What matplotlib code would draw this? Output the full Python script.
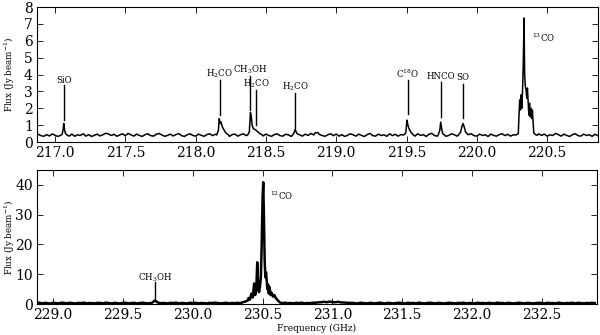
import numpy as np
import matplotlib
matplotlib.use("Agg")
from matplotlib import pyplot as plt

plt.rcParams['font.family'] = 'DejaVu Serif'
plt.rcParams['mathtext.fontset'] = 'dejavuserif'

# ---- upper spectral window (216.88 - 220.86 GHz) ----
top_start = 216.88
top_step = 0.02
top_base = [
    0.46, 0.38, 0.34, 0.44, 0.36, 0.48, 0.40, 0.33, 0.45, 0.50,
    0.38, 0.35, 0.47, 0.34, 0.43, 0.39, 0.49, 0.35, 0.44, 0.33,
    0.40, 0.47, 0.36, 0.43, 0.52, 0.48, 0.39, 0.46, 0.34, 0.42,
    0.49, 0.37, 0.51, 0.43, 0.35, 0.47, 0.39, 0.33, 0.44, 0.49,
    0.38, 0.35, 0.46, 0.51, 0.42, 0.34, 0.39, 0.47, 0.36, 0.44,
    0.50, 0.38, 0.33, 0.43, 0.49, 0.39, 0.35, 0.47, 0.40, 0.34,
    0.44, 0.49, 0.38, 0.46, 0.35, 0.43, 0.51, 0.39, 0.33, 0.44,
    0.47, 0.35, 0.43, 0.49, 0.38, 0.33, 0.47, 0.39, 0.51, 0.43,
    0.36, 0.47, 0.39, 0.34, 0.44, 0.49, 0.38, 0.35, 0.46, 0.43,
    0.33, 0.39, 0.49, 0.43, 0.35, 0.47, 0.39, 0.51, 0.44, 0.36,
    0.47, 0.39, 0.34, 0.43, 0.49, 0.38, 0.47, 0.35, 0.44, 0.33,
    0.40, 0.49, 0.43, 0.35, 0.47, 0.39, 0.33, 0.44, 0.51, 0.38,
    0.35, 0.47, 0.39, 0.43, 0.34, 0.49, 0.38, 0.46, 0.35, 0.44,
    0.39, 0.33, 0.47, 0.43, 0.35, 0.49, 0.39, 0.44, 0.33, 0.47,
    0.51, 0.38, 0.35, 0.44, 0.47, 0.34, 0.39, 0.49, 0.43, 0.35,
    0.40, 0.47, 0.33, 0.44, 0.49, 0.38, 0.35, 0.47, 0.39, 0.43,
    0.33, 0.47, 0.39, 0.35, 0.44, 0.49, 0.38, 0.46, 0.35, 0.43,
    0.39, 0.49, 0.43, 0.33, 0.47, 0.38, 0.35, 0.44, 0.49, 0.39,
    0.47, 0.35, 0.43, 0.39, 0.51, 0.44, 0.35, 0.47, 0.39, 0.33,
    0.44, 0.49, 0.38, 0.35, 0.47, 0.39, 0.43, 0.34, 0.46, 0.38,
]

sio_f = [217.04, 217.05, 217.058, 217.062, 217.068, 217.075, 217.085]
sio_v = [0.40, 0.45, 0.75, 1.10, 0.70, 0.50, 0.42]
h2co1_f = [218.15, 218.162, 218.168, 218.174, 218.18, 218.19, 218.20, 218.21, 218.22, 218.235]
h2co1_v = [0.42, 0.70, 1.38, 1.10, 1.20, 0.90, 0.75, 0.60, 0.50, 0.42]
ch3oh_f = [218.37, 218.382, 218.39, 218.396, 218.402, 218.41, 218.42, 218.43, 218.44, 218.45, 218.46, 218.475]
ch3oh_v = [0.42, 0.60, 1.75, 1.50, 1.00, 0.80, 0.75, 0.70, 0.62, 0.55, 0.48, 0.42]
h2co2_f = [218.69, 218.70, 218.708, 218.715, 218.725]
h2co2_v = [0.42, 0.55, 0.75, 0.60, 0.47]
bump_f = [218.84, 218.85, 218.87, 218.88]
bump_v = [0.42, 0.55, 0.56, 0.45]
c18o_f = [219.48, 219.495, 219.503, 219.51, 219.52, 219.53, 219.545]
c18o_v = [0.42, 0.55, 1.30, 1.00, 0.75, 0.60, 0.45]
hnco_f = [219.725, 219.737, 219.743, 219.75, 219.757, 219.77]
hnco_v = [0.42, 0.70, 1.18, 0.80, 0.50, 0.42]
so_f = [219.87, 219.885, 219.895, 219.902, 219.91, 219.92, 219.935]
so_v = [0.42, 0.60, 0.95, 1.10, 0.90, 0.60, 0.45]
co13_f = [220.28, 220.295, 220.30, 220.305, 220.31, 220.315, 220.32, 220.325, 220.33,
          220.336, 220.34, 220.345, 220.35, 220.355, 220.36, 220.365, 220.37, 220.375,
          220.38, 220.385, 220.39, 220.395, 220.40, 220.405, 220.415, 220.43]
co13_v = [0.42, 0.50, 1.60, 2.50, 1.90, 2.80, 2.00, 3.00, 4.50,
          7.35, 4.00, 3.30, 3.10, 2.60, 3.20, 2.40, 1.60, 2.30,
          1.50, 2.00, 1.40, 1.90, 1.20, 0.55, 0.45, 0.40]

# ---- lower spectral window (228.88 - 232.88 GHz) ----
bot_start = 228.88
bot_step = 0.02
bot_base = [
    0.30, 0.45, 0.20, 0.38, 0.30, 0.15, 0.42, 0.30, 0.22, 0.46,
    0.34, 0.24, 0.40, 0.30, 0.18, 0.38, 0.30, 0.46, 0.22, 0.34,
    0.30, 0.20, 0.42, 0.34, 0.24, 0.48, 0.30, 0.20, 0.40, 0.30,
    0.18, 0.36, 0.42, 0.22, 0.30, 0.40, 0.20, 0.34, 0.46, 0.30,
    0.24, 0.40, 0.30, 0.18, 0.42, 0.30, 0.34, 0.20, 0.40, 0.30,
    0.46, 0.22, 0.34, 0.30, 0.20, 0.42, 0.30, 0.40, 0.24, 0.34,
    0.30, 0.18, 0.40, 0.30, 0.46, 0.34, 0.22, 0.30, 0.42, 0.20,
    0.34, 0.30, 0.40, 0.24, 0.36, 0.45, 0.40, 0.55, 0.50, 0.65,
    0.60, 0.70, 0.50, 0.55, 0.40, 0.45, 0.32, 0.30, 0.22, 0.42,
    0.30, 0.34, 0.20, 0.40, 0.30, 0.46, 0.22, 0.34, 0.30, 0.42,
    0.45, 0.55, 0.60, 0.75, 0.60, 0.80, 0.65, 0.60, 0.75, 0.55,
    0.50, 0.45, 0.35, 0.40, 0.30, 0.20, 0.42, 0.34, 0.22, 0.30,
    0.40, 0.20, 0.34, 0.46, 0.30, 0.22, 0.40, 0.30, 0.18, 0.36,
    0.42, 0.30, 0.20, 0.40, 0.30, 0.34, 0.22, 0.46, 0.30, 0.20,
    0.34, 0.42, 0.30, 0.22, 0.40, 0.30, 0.18, 0.34, 0.42, 0.30,
    0.20, 0.40, 0.30, 0.46, 0.22, 0.34, 0.30, 0.20, 0.42, 0.30,
    0.34, 0.22, 0.40, 0.30, 0.20, 0.46, 0.30, 0.34, 0.22, 0.40,
    0.30, 0.18, 0.34, 0.42, 0.30, 0.22, 0.40, 0.30, 0.20, 0.34,
    0.42, 0.30, 0.22, 0.40, 0.30, 0.34, 0.20, 0.46, 0.30, 0.22,
    0.34, 0.30, 0.42, 0.20, 0.40, 0.30, 0.22, 0.34, 0.30, 0.40,
    0.30,
]

ch3oh_b_f = [229.70, 229.715, 229.725, 229.735, 229.75, 229.765]
ch3oh_b_v = [0.30, 0.60, 1.10, 1.00, 0.50, 0.30]
co12_f = [230.34, 230.36, 230.38, 230.395, 230.40, 230.41, 230.42, 230.43, 230.436,
          230.44, 230.447, 230.455, 230.462, 230.468, 230.475, 230.482, 230.488,
          230.494, 230.50, 230.505, 230.51, 230.515, 230.52, 230.525, 230.53,
          230.535, 230.54, 230.545, 230.55, 230.558, 230.565, 230.575, 230.585,
          230.595, 230.61, 230.625, 230.64]
co12_v = [0.30, 0.60, 0.90, 1.20, 2.00, 1.50, 3.50, 2.20, 5.00,
          6.90, 3.00, 4.50, 14.0, 7.00, 4.00, 6.00, 9.00,
          20.0, 35.0, 40.9, 30.0, 15.0, 9.00, 10.6, 8.00,
          5.00, 6.50, 3.50, 5.70, 3.00, 3.80, 2.50, 3.00,
          2.00, 1.20, 0.50, 0.30]

# line labels: (text, freq, line top, line bottom, label y)
top_labels = [
    ("SiO", 217.062, 3.38, 1.30, 3.67),
    ("H$_2$CO", 218.170, 3.67, 1.60, 4.03),
    ("CH$_3$OH", 218.390, 3.90, 1.90, 4.30),
    ("H$_2$CO", 218.430, 3.08, 1.00, 3.44),
    ("H$_2$CO", 218.708, 2.90, 0.85, 3.26),
    ("C$^{18}$O", 219.508, 3.67, 1.66, 4.03),
    ("HNCO", 219.745, 3.55, 1.50, 3.90),
    ("SO", 219.902, 3.44, 1.40, 3.80),
]
bot_labels = [
    ("CH$_3$OH", 229.730, 7.3, 1.2, 8.7),
]


def build_spectrum(start, step, base, segments):
    f = start + step * np.arange(len(base))
    v = np.array(base, dtype=float)
    keep = np.ones(len(f), dtype=bool)
    for sf, sv in segments:
        keep &= ~((f >= min(sf)) & (f <= max(sf)))
    f_all = np.concatenate([f[keep]] + [np.array(sf) for sf, sv in segments])
    v_all = np.concatenate([v[keep]] + [np.array(sv) for sf, sv in segments])
    order = np.argsort(f_all)
    return f_all[order], v_all[order]


top_f, top_v = build_spectrum(top_start, top_step, top_base, [
    (sio_f, sio_v), (h2co1_f, h2co1_v), (ch3oh_f, ch3oh_v), (h2co2_f, h2co2_v),
    (bump_f, bump_v), (c18o_f, c18o_v), (hnco_f, hnco_v), (so_f, so_v),
    (co13_f, co13_v)])
bot_f, bot_v = build_spectrum(bot_start, bot_step, bot_base, [
    (ch3oh_b_f, ch3oh_b_v), (co12_f, co12_v)])

fig = plt.figure(figsize=(6.0, 3.35), dpi=100)
ax1 = fig.add_axes([0.0617, 0.576, 0.935, 0.403])
ax2 = fig.add_axes([0.0617, 0.0925, 0.933, 0.400])

ax1.plot(top_f, top_v, color='black', lw=1.1)
ax1.set_xlim(216.872, 220.862)
ax1.set_ylim(0, 8)
ax1.set_xticks([217.0, 217.5, 218.0, 218.5, 219.0, 219.5, 220.0, 220.5])
ax1.set_yticks(range(0, 9))
for txt, fr, y1, y0, ly in top_labels:
    ax1.plot([fr, fr], [y0, y1], color='black', lw=1.0)
    ax1.text(fr, ly, txt, ha='center', va='center', fontsize=6.2)
ax1.text(220.39, 6.2, "$^{13}$CO", ha='left', va='center', fontsize=6.2)

ax2.plot(bot_f, bot_v, color='black', lw=1.8)
ax2.set_xlim(228.885, 232.894)
ax2.set_ylim(0, 45)
ax2.set_xticks([229.0, 229.5, 230.0, 230.5, 231.0, 231.5, 232.0, 232.5])
ax2.set_yticks([0, 10, 20, 30, 40])
for txt, fr, y1, y0, ly in bot_labels:
    ax2.plot([fr, fr], [y0, y1], color='black', lw=1.0)
    ax2.text(fr, ly, txt, ha='center', va='center', fontsize=6.2)
ax2.text(230.553, 36.4, "$^{12}$CO", ha='left', va='center', fontsize=6.2)
ax2.set_xlabel("Frequency (GHz)", fontsize=6.5, labelpad=1)

for ax in (ax1, ax2):
    ax.tick_params(direction='in', top=True, right=True, length=4, width=0.6,
                   labelsize=10, pad=3)
    ax.xaxis.set_major_formatter(matplotlib.ticker.FormatStrFormatter('%.1f'))
    ax.set_ylabel("Flux (Jy beam$^{-1}$)", fontsize=6.3)
    ax.yaxis.set_label_coords(-0.036, 0.5)
    for s in ax.spines.values():
        s.set_linewidth(0.8)

fig.savefig("out.png", dpi=100)
